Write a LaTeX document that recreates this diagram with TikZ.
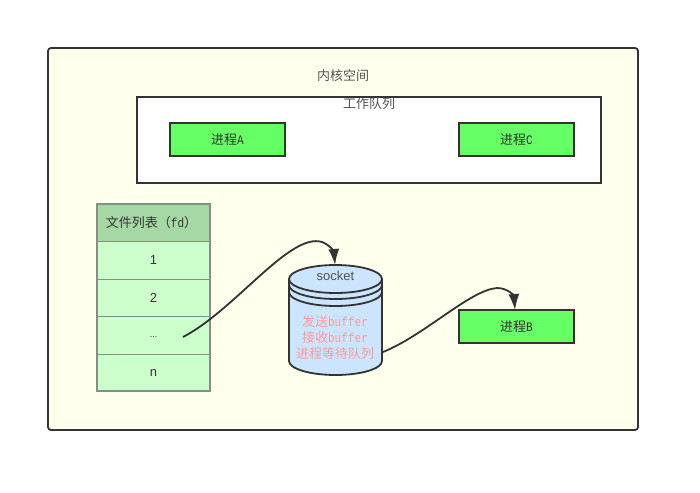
\documentclass[tikz,border=0pt]{standalone}
\usepackage{fontspec}
\setmainfont{Noto Sans CJK SC}
\newfontfamily\latinsans{Liberation Sans}
\newfontfamily\latinmono[FakeStretch=0.85]{Liberation Mono}
\usetikzlibrary{arrows.meta}
\definecolor{kernelfill}{HTML}{FFFFEE}
\definecolor{linedark}{HTML}{333333}
\definecolor{procfill}{HTML}{66FF66}
\definecolor{rowfill}{HTML}{CCFFCC}
\definecolor{headfill}{HTML}{A6D8A6}
\definecolor{rowline}{HTML}{858F85}
\definecolor{sockfill}{HTML}{CCE5FF}
\definecolor{sockpink}{HTML}{FF9999}
\tikzset{
    proc/.style={draw=linedark,line width=1.8pt,fill=procfill,minimum width=115pt,minimum height=33pt,inner sep=0pt,font=\fontsize{13}{14}\selectfont,text=linedark},
    row/.style={draw=rowline,line width=0.7pt,fill=rowfill,minimum width=113pt,minimum height=37.5pt,inner sep=0pt,font=\fontsize{13}{14}\selectfont,text=linedark},
    label/.style={inner sep=0pt,font=\fontsize{13}{14}\selectfont,text=linedark!85},
    flow/.style={draw=linedark,line width=1.8pt,-{Latex[length=16pt,width=11pt]}},
}
\begin{document}
\begin{tikzpicture}[x=1pt,y=-1pt]
    \useasboundingbox (0,0) rectangle (700,492);
    \fill[white] (0,0) rectangle (700,492);
    % kernel space
    \draw[draw=linedark,line width=1.8pt,fill=kernelfill,rounded corners=3pt] (48,48) rectangle (638,430);
    \node[label] (kernel) at (343,76) {内核空间};
    % work queue
    \draw[draw=linedark,line width=1.8pt,fill=white] (137,97) rectangle (601,183);
    \node[label] (queue) at (369,104) {工作队列};
    \node[proc] (procA) at (227.5,139.5) {进程{\latinmono A}};
    \node[proc] (procC) at (516.5,139.5) {进程{\latinmono C}};
    \node[proc] (procB) at (516.5,326.5) {进程{\latinmono B}};
    % fd table
    \node[row,fill=headfill] (fdhead) at (153.5,222.8) {\hspace*{-4pt}文件列表（{\latinmono fd}）};
    \node[row] (fd1) at (153.5,260.3) {\latinsans 1};
    \node[row] (fd2) at (153.5,297.8) {\latinsans 2};
    \node[row,font=\fontsize{9}{10}\selectfont] (fddots) at (153.5,335.3) {\raisebox{-4pt}{\latinsans ...}};
    \node[row] (fdn) at (153.5,372.8) {\latinsans n};
    \draw[draw=rowline,line width=1.8pt] (97,204) rectangle (210,391);
    % socket
    \draw[draw=linedark,line width=1.8pt,fill=sockfill] (289,279) -- (289,361)
        arc[start angle=180,end angle=360,x radius=46.5pt,y radius=14pt] -- (382,279)
        arc[start angle=0,end angle=180,x radius=46.5pt,y radius=14pt] -- cycle;
    \draw[draw=linedark,line width=1.8pt] (289,279) arc[start angle=180,end angle=360,x radius=46.5pt,y radius=14pt];
    \draw[draw=linedark,line width=1.8pt] (289,285) arc[start angle=180,end angle=360,x radius=46.5pt,y radius=14pt];
    \draw[draw=linedark,line width=1.8pt] (289,292) arc[start angle=180,end angle=360,x radius=46.5pt,y radius=14pt];
    \coordinate (socktop) at (335,265);
    \coordinate (sockright) at (383,352);
    \coordinate (fdout) at (183,337);
    \coordinate (procBtop) at (515,310);
    \node[label,font=\fontsize{13}{14}\selectfont\latinsans] (sockname) at (335.5,275.5) {socket};
    \node[label,text=sockpink] (sendbuf) at (335,322) {发送{\latinmono buffer}};
    \node[label,text=sockpink] (recvbuf) at (335,338) {接收{\latinmono buffer}};
    \node[label,text=sockpink] (waitq) at (335,354) {进程等待队列};
    % connectors
    \draw[flow] (fdout) .. controls (235,310) and (290,232) .. (322,242) .. controls (330,245) and (334,252) .. (socktop);
    \draw[flow] (sockright) .. controls (425,335) and (470,290) .. (497,288) .. controls (508,288) and (514,296) .. (procBtop);
\end{tikzpicture}
\end{document}
